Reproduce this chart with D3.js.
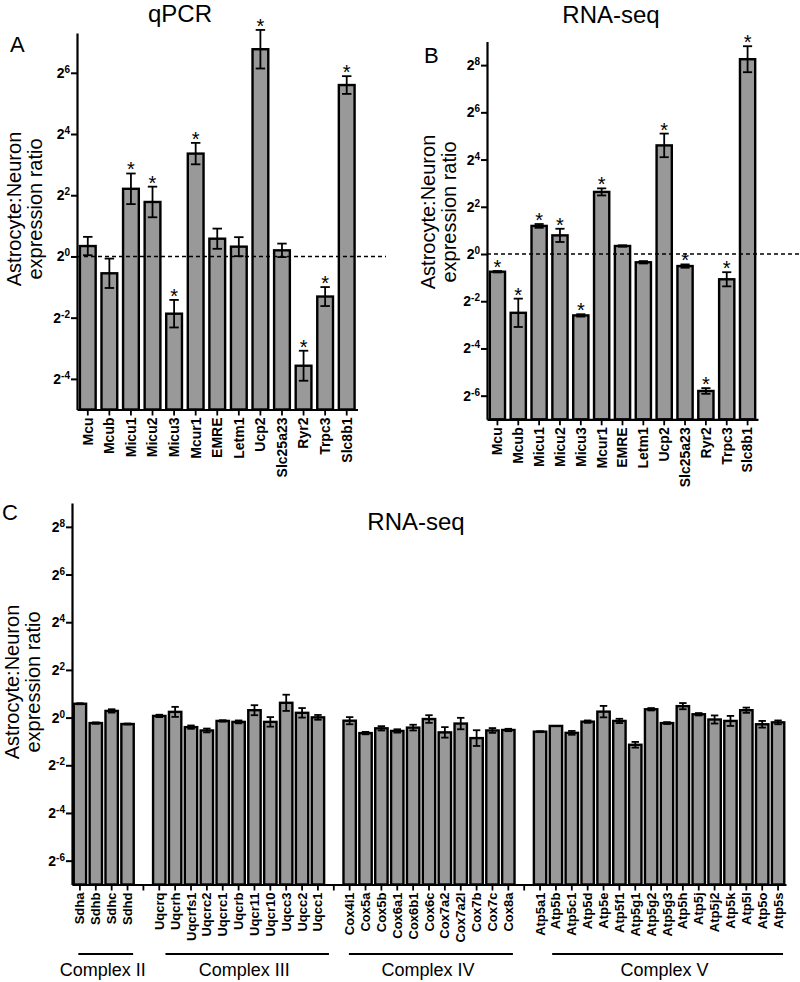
<!DOCTYPE html>
<html><head><meta charset="utf-8">
<script src="https://cdn.jsdelivr.net/npm/d3@7"></script>
<style>
body{margin:0;background:#fff;}
svg{display:block;font-family:"Liberation Sans",Arial,Helvetica,sans-serif;}
</style></head><body>
<svg id="chart" width="800" height="982"></svg>
<script>
// ---- Data (log2 of Astrocyte:Neuron expression ratio) ----
const genesAB = ["Mcu","Mcub","Micu1","Micu2","Micu3","Mcur1","EMRE","Letm1","Ucp2","Slc25a23","Ryr2","Trpc3","Slc8b1"];
const qpcrLog2 = [0.34,-0.55,2.21,1.78,-1.87,3.36,0.58,0.32,6.77,0.2,-3.57,-1.31,5.6];
const qpcrErr  = [0.3,0.48,0.5,0.5,0.45,0.35,0.33,0.31,0.63,0.22,0.49,0.31,0.29];
const qpcrSig  = [0,0,1,1,1,1,0,0,1,0,1,1,1];
const rnaLog2  = [-0.75,-2.49,1.19,0.79,-2.6,2.63,0.34,-0.35,4.6,-0.51,-5.8,-1.07,8.25];
const rnaErr   = [0.03,0.6,0.08,0.28,0.05,0.15,0.03,0.05,0.5,0.07,0.12,0.3,0.55];
const rnaSig   = [1,1,1,1,1,1,0,0,1,1,1,1,1];

const complexIIGenes  = ["Sdha","Sdhb","Sdhc","Sdhd"];
const complexIIVals   = [0.58,-0.23,0.28,-0.27];
const complexIIErr    = [0.02,0.03,0.07,0.02];
const complexIIIGenes = ["Uqcrq","Uqcrh","Uqcrfs1","Uqcrc2","Uqcrc1","Uqcrb","Uqcr11","Uqcr10","Uqcc3","Uqcc2","Uqcc1"];
const complexIIIVals  = [0.07,0.24,-0.4,-0.54,-0.14,-0.18,0.31,-0.18,0.62,0.2,0.01];
const complexIIIErr   = [0.05,0.21,0.07,0.08,0.03,0.06,0.21,0.2,0.34,0.2,0.1];
const complexIVGenes  = ["Cox4i1","Cox5a","Cox5b","Cox6a1","Cox6b1","Cox6c","Cox7a2","Cox7a2l","Cox7b","Cox7c","Cox8a"];
const complexIVVals   = [-0.13,-0.65,-0.45,-0.56,-0.42,-0.06,-0.62,-0.25,-0.86,-0.54,-0.52];
const complexIVErr    = [0.15,0.05,0.09,0.07,0.12,0.16,0.22,0.24,0.33,0.1,0.05];
const complexVGenes   = ["Atp5a1","Atp5b","Atp5c1","Atp5d","Atp5e","Atp5f1","Atp5g1","Atp5g2","Atp5g3","Atp5h","Atp5j","Atp5j2","Atp5k","Atp5l","Atp5o","Atp5s"];
const complexVVals    = [-0.59,-0.35,-0.64,-0.17,0.25,-0.14,-1.14,0.35,-0.23,0.48,0.14,-0.08,-0.14,0.31,-0.28,-0.2];
const complexVErr     = [0.02,0,0.08,0.05,0.24,0.09,0.12,0.05,0.04,0.13,0.05,0.17,0.21,0.11,0.14,0.08];
const complexNames    = ["Complex II","Complex III","Complex IV","Complex V"];

const ticksA = [6,4,2,0,-2,-4];
const ticksBC = [8,6,4,2,0,-2,-4,-6];

const svg = d3.select("#chart");
const FILL = "#999999";

function drawPanel(o){
  const g = svg.append("g");
  const x = d3.scaleBand().domain(o.cats).range(o.xr).paddingInner(o.pad).paddingOuter(o.pad/2);
  const y = d3.scaleLinear().domain(o.yd).range(o.yr);
  const bw = x.bandwidth();
  const bottom = o.yr[0];

  // y axis
  const ya = g.append("g").attr("transform",`translate(${o.xr[0]},0)`)
    .call(d3.axisLeft(y).tickValues(o.ticks).tickSize(6).tickSizeOuter(0).tickPadding(1));
  ya.attr("font-family",null).attr("font-size",null);
  ya.select(".domain").attr("stroke-width",2.2);
  ya.selectAll(".tick line").attr("stroke-width",2);
  ya.selectAll(".tick text").each(function(d){
    const t = d3.select(this); t.text(null)
      .style("font-weight","bold").style("font-size","14px").attr("fill","#000");
    t.append("tspan").text("2");
    t.append("tspan").attr("dy","-0.5em").style("font-size","10px").text(String(d));
  });

  // x axis
  const xa = g.append("g").attr("transform",`translate(0,${bottom})`)
    .call(d3.axisBottom(x).tickSize(6).tickSizeOuter(0).tickFormat(d => d.startsWith("_") ? "" : d));
  xa.attr("font-family",null).attr("font-size",null);
  xa.select(".domain").attr("stroke-width",2.2);
  xa.selectAll(".tick line").attr("stroke-width",1.8);
  xa.selectAll(".tick text")
    .attr("transform","rotate(-90)").attr("x",-8).attr("y",0).attr("dy","0.35em")
    .style("text-anchor","end").style("font-weight","bold").style("font-size",o.xfs+"px").attr("fill","#000");

  const data = o.vals.map((v,i)=>({c:o.valCats[i], v, e:o.errs[i], s:o.sig ? o.sig[i] : 0}));

  // bars
  g.selectAll("rect.bar").data(data).join("rect").attr("class","bar")
    .attr("x",d=>x(d.c)).attr("width",bw)
    .attr("y",d=>y(d.v)).attr("height",d=>bottom - y(d.v))
    .attr("fill",FILL).attr("stroke","#000").attr("stroke-width",2.4);

  // error bars
  const cap = bw*0.6;
  const eb = g.selectAll("g.err").data(data.filter(d=>d.e>0)).join("g").attr("class","err")
    .attr("stroke","#000").attr("stroke-width",1.8);
  eb.append("line").attr("x1",d=>x(d.c)+bw/2).attr("x2",d=>x(d.c)+bw/2)
    .attr("y1",d=>y(d.v+d.e)).attr("y2",d=>y(d.v-d.e));
  eb.append("line").attr("x1",d=>x(d.c)+bw/2-cap/2).attr("x2",d=>x(d.c)+bw/2+cap/2)
    .attr("y1",d=>y(d.v+d.e)).attr("y2",d=>y(d.v+d.e));
  eb.append("line").attr("x1",d=>x(d.c)+bw/2-cap/2).attr("x2",d=>x(d.c)+bw/2+cap/2)
    .attr("y1",d=>y(d.v-d.e)).attr("y2",d=>y(d.v-d.e));

  // significance
  g.selectAll("text.sig").data(data.filter(d=>d.s)).join("text").attr("class","sig")
    .attr("x",d=>x(d.c)+bw/2).attr("y",d=>y(d.v+d.e)+3)
    .attr("text-anchor","middle").style("font-size","20px").text("*");

  // dashed reference line at 2^0
  if(o.dash){
    g.append("line").attr("x1",o.xr[0]).attr("x2",o.dash)
      .attr("y1",y(0)).attr("y2",y(0))
      .attr("stroke","#000").attr("stroke-width",1.5).attr("stroke-dasharray","4,3");
  }

  // y label
  const yl = g.append("text").attr("transform",`translate(${o.ylx},${o.yly}) rotate(-90)`)
    .attr("text-anchor","middle").style("font-size","20px");
  yl.append("tspan").attr("x",0).attr("y",0).text("Astrocyte:Neuron");
  yl.append("tspan").attr("x",0).attr("y",21).text("expression ratio");

  // title & panel letter
  svg.append("text").attr("x",o.title[1]).attr("y",o.title[2]).attr("text-anchor","middle")
    .style("font-size","24px").text(o.title[0]);
  svg.append("text").attr("x",o.letter[1]).attr("y",o.letter[2])
    .style("font-size","22px").text(o.letter[0]);
  return {x,y,g,bw};
}

// Panel A
drawPanel({cats:genesAB, valCats:genesAB, vals:qpcrLog2, errs:qpcrErr, sig:qpcrSig,
  xr:[77,357.5], yr:[409.5,33], yd:[-5,7.3], ticks:ticksA, pad:0.27, xfs:14,
  dash:386, ylx:21, yly:209, title:["qPCR",180,22], letter:["A",10,52]});

// Panel B
drawPanel({cats:genesAB, valCats:genesAB, vals:rnaLog2, errs:rnaErr, sig:rnaSig,
  xr:[487,758], yr:[419.3,41.5], yd:[-7,9], ticks:ticksBC, pad:0.27, xfs:14,
  dash:800, ylx:435, yly:212, title:["RNA-seq",611,23], letter:["B",424,63]});

// Panel C
const groupsC = [complexIIGenes, complexIIIGenes, complexIVGenes, complexVGenes];
const valsC = [complexIIVals, complexIIIVals, complexIVVals, complexVVals];
const errsC = [complexIIErr, complexIIIErr, complexIVErr, complexVErr];
const catsC = [];
groupsC.forEach((gr,i)=>{ if(i>0) catsC.push("_gap"+i); gr.forEach(c=>catsC.push(c)); });
const pc = drawPanel({cats:catsC, valCats:groupsC.flat(), vals:valsC.flat(), errs:errsC.flat(), sig:null,
  xr:[72,786], yr:[884.5,503], yd:[-7,9], ticks:ticksBC, pad:0.22, xfs:13,
  dash:null, ylx:19, yly:682, title:["RNA-seq",416,530], letter:["C",2,520]});

// group brackets under panel C
const lineFrac = [[0.37,0.95],[1.0,1.39],[0.44,0.87],[1.48,0.9]];
groupsC.forEach((gr,i)=>{
  const x1 = pc.x(gr[0]) + pc.bw*lineFrac[i][0];
  const x2 = pc.x(gr[gr.length-1]) + pc.bw*lineFrac[i][1];
  svg.append("line").attr("x1",x1).attr("x2",x2).attr("y1",954).attr("y2",954)
    .attr("stroke","#000").attr("stroke-width",2);
  svg.append("text").attr("x",(x1+x2)/2 - 3).attr("y",976).attr("text-anchor","middle")
    .style("font-size","18px").text(complexNames[i]);
});
</script>
</body></html>
